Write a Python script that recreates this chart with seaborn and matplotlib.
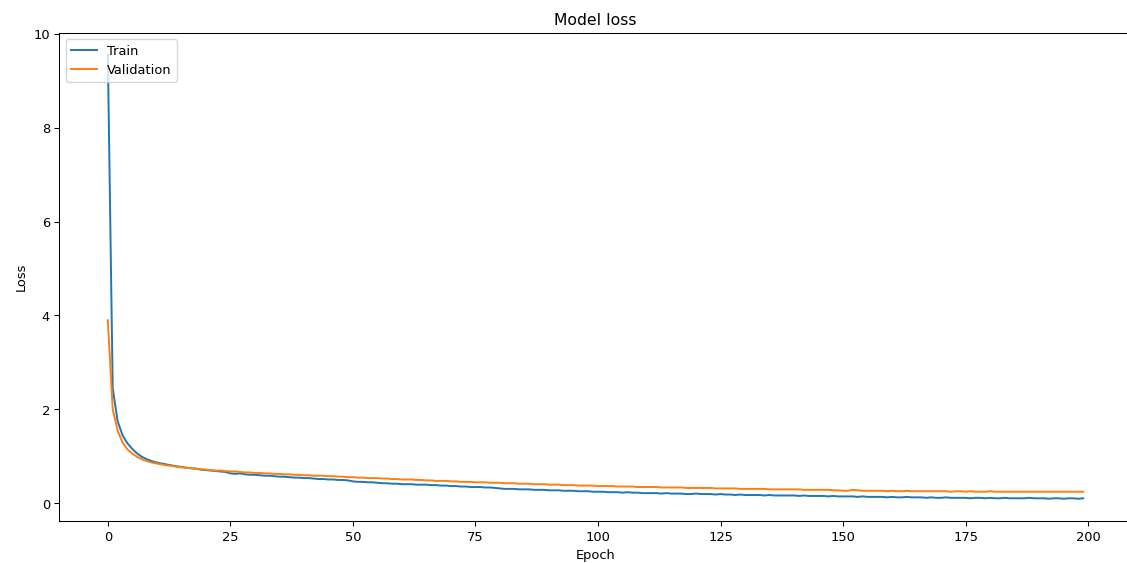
import pandas as pd
import numpy as np
import matplotlib
matplotlib.use("Agg")
import matplotlib.pyplot as plt
import seaborn as sns

# Loss history (one value per epoch)
train_loss = [
    9.55, 2.45, 1.75, 1.45, 1.28, 1.16, 1.06, 0.99, 0.94, 0.90,
    0.87, 0.85, 0.83, 0.81, 0.79, 0.78, 0.76, 0.75, 0.74, 0.72,
    0.71, 0.70, 0.69, 0.68, 0.67, 0.64, 0.63, 0.64, 0.62, 0.61,
    0.61, 0.60, 0.59, 0.59, 0.58, 0.57, 0.57, 0.56, 0.55, 0.55,
    0.54, 0.54, 0.53, 0.52, 0.52, 0.51, 0.51, 0.50, 0.50, 0.49,
    0.47, 0.46, 0.46, 0.45, 0.45, 0.44, 0.43, 0.43, 0.42, 0.42,
    0.41, 0.41, 0.41, 0.40, 0.40, 0.40, 0.39, 0.39, 0.38, 0.38,
    0.37, 0.37, 0.36, 0.36, 0.35, 0.35, 0.35, 0.34, 0.34, 0.33,
    0.32, 0.31, 0.31, 0.31, 0.30, 0.30, 0.30, 0.29, 0.29, 0.29,
    0.28, 0.28, 0.28, 0.27, 0.27, 0.27, 0.26, 0.26, 0.26, 0.25,
    0.25, 0.25, 0.24, 0.24, 0.24, 0.23, 0.24, 0.23, 0.23, 0.22,
    0.22, 0.22, 0.22, 0.21, 0.22, 0.21, 0.21, 0.21, 0.20, 0.20,
    0.21, 0.20, 0.20, 0.20, 0.19, 0.20, 0.19, 0.19, 0.18, 0.19,
    0.18, 0.18, 0.18, 0.18, 0.17, 0.18, 0.17, 0.17, 0.17, 0.17,
    0.17, 0.16, 0.17, 0.16, 0.16, 0.16, 0.16, 0.15, 0.16, 0.15,
    0.15, 0.15, 0.15, 0.14, 0.15, 0.14, 0.14, 0.14, 0.14, 0.13,
    0.14, 0.13, 0.13, 0.14, 0.13, 0.13, 0.13, 0.12, 0.13, 0.12,
    0.12, 0.13, 0.12, 0.12, 0.12, 0.12, 0.11, 0.12, 0.12, 0.11,
    0.12, 0.11, 0.11, 0.12, 0.11, 0.11, 0.11, 0.11, 0.12, 0.11,
    0.11, 0.11, 0.10, 0.11, 0.11, 0.10, 0.11, 0.11, 0.10, 0.11,
]

val_loss = [
    3.90, 2.00, 1.55, 1.30, 1.15, 1.06, 0.99, 0.94, 0.90, 0.87,
    0.85, 0.83, 0.81, 0.80, 0.78, 0.77, 0.76, 0.75, 0.74, 0.73,
    0.72, 0.71, 0.70, 0.70, 0.69, 0.68, 0.68, 0.67, 0.66, 0.66,
    0.65, 0.65, 0.64, 0.64, 0.63, 0.63, 0.62, 0.62, 0.61, 0.61,
    0.60, 0.60, 0.59, 0.59, 0.59, 0.58, 0.58, 0.57, 0.57, 0.56,
    0.56, 0.55, 0.55, 0.54, 0.54, 0.54, 0.53, 0.53, 0.52, 0.52,
    0.51, 0.51, 0.51, 0.50, 0.50, 0.49, 0.49, 0.48, 0.48, 0.48,
    0.47, 0.47, 0.46, 0.46, 0.46, 0.45, 0.45, 0.45, 0.44, 0.44,
    0.44, 0.43, 0.43, 0.43, 0.42, 0.42, 0.42, 0.41, 0.41, 0.41,
    0.40, 0.40, 0.40, 0.39, 0.39, 0.39, 0.38, 0.38, 0.38, 0.38,
    0.37, 0.37, 0.37, 0.37, 0.36, 0.36, 0.36, 0.36, 0.35, 0.35,
    0.35, 0.35, 0.35, 0.34, 0.34, 0.34, 0.34, 0.34, 0.33, 0.33,
    0.33, 0.33, 0.33, 0.33, 0.32, 0.32, 0.32, 0.32, 0.32, 0.31,
    0.31, 0.31, 0.31, 0.31, 0.31, 0.30, 0.30, 0.30, 0.30, 0.30,
    0.30, 0.30, 0.29, 0.29, 0.29, 0.29, 0.29, 0.29, 0.28, 0.28,
    0.27, 0.27, 0.29, 0.28, 0.27, 0.27, 0.27, 0.27, 0.27, 0.26,
    0.27, 0.26, 0.26, 0.27, 0.26, 0.26, 0.26, 0.26, 0.26, 0.26,
    0.26, 0.26, 0.25, 0.26, 0.26, 0.25, 0.26, 0.25, 0.25, 0.25,
    0.26, 0.25, 0.25, 0.25, 0.25, 0.25, 0.25, 0.25, 0.25, 0.25,
    0.25, 0.25, 0.25, 0.25, 0.25, 0.25, 0.25, 0.25, 0.25, 0.25,
]

epochs = list(range(len(train_loss)))

df = pd.DataFrame({
    "Epoch": epochs + epochs,
    "Loss": train_loss + val_loss,
    "Set": ["Train"] * len(train_loss) + ["Validation"] * len(val_loss),
})

# ------------------------ plot ------------------------
fig = plt.figure(figsize=(12, 6), dpi=93.92)
# axes runs past the right edge, like the cropped original
ax = fig.add_axes([0.0524, 0.0746, 0.952, 0.8668])

sns.lineplot(data=df, x="Epoch", y="Loss", hue="Set",
             palette=["#1f77b4", "#ff7f0e"], ax=ax)

ax.set_title("Model loss")
ax.set_xlabel("Epoch")
ax.set_ylabel("Loss")
ax.legend(loc="upper left")

fig.savefig("out.png", dpi=93.92)
